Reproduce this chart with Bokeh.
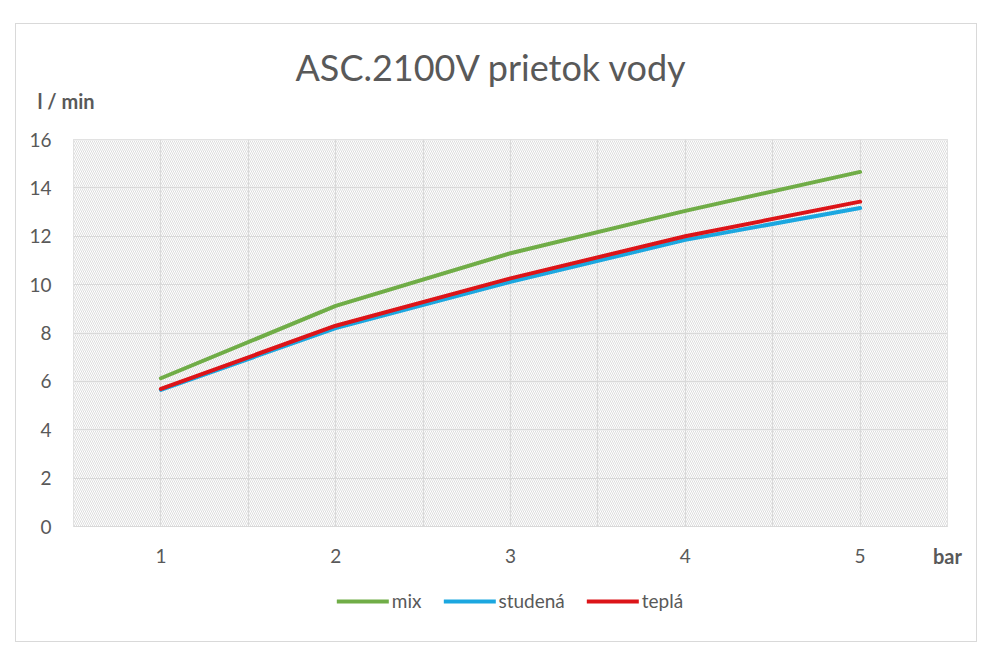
from bokeh.plotting import figure
from bokeh.layouts import column
from bokeh.models import (FixedTicker, BoxAnnotation, Title, Legend, LegendItem, Range1d)
from bokeh.embed import file_html
from bokeh.resources import INLINE

# ---- data ----
pressure = [1, 2, 3, 4, 5]
mix = [6.13, 9.12, 11.30, 13.05, 14.66]
studena = [5.65, 8.20, 10.12, 11.85, 13.17]
tepla = [5.69, 8.30, 10.26, 12.00, 13.43]
series_names = ["mix", "studená", "teplá"]
series_colors = ["#70AD47", "#1BA7E0", "#DC1418"]
y_ticks = [0, 2, 4, 6, 8, 10, 12, 14, 16]
title_text = "ASC.2100V prietok vody"
y_unit = "l / min"
x_unit = "bar"

FONT = "Lato"
TXT = "#595959"
GRID = "#d9d9d9"

p = figure(width=960, height=565, output_backend="svg", toolbar_location=None,
           x_range=Range1d(0.5, 5.5), y_range=Range1d(0, 16),
           min_border_left=57, min_border_right=29, min_border_top=115, min_border_bottom=63)
p.title.visible = False
p.background_fill_color = "white"
p.border_fill_color = "white"
p.outline_line_color = GRID

# hatched plot area
p.add_layout(BoxAnnotation(fill_color="white", fill_alpha=1.0, hatch_pattern="\\",
                           hatch_color="#dddddd", hatch_scale=4, hatch_weight=1,
                           line_color=None, level="image"))

# axes
p.xaxis.ticker = FixedTicker(ticks=pressure)
p.yaxis.ticker = FixedTicker(ticks=y_ticks)
for ax in (p.xaxis[0], p.yaxis[0]):
    ax.major_tick_line_color = None
    ax.minor_tick_line_color = None
    ax.major_label_text_font = FONT
    ax.major_label_text_font_size = "19px"
    ax.major_label_text_color = TXT
p.yaxis.axis_line_color = None
p.xaxis.axis_line_color = GRID
p.yaxis.major_label_standoff = 16
p.xaxis.major_label_standoff = 16

xa = p.xaxis[0]
xa.axis_label = x_unit
xa.axis_label_align = "end"
xa.axis_label_standoff = -22
xa.axis_label_text_font = FONT
xa.axis_label_text_font_size = "20px"
xa.axis_label_text_font_style = "bold"
xa.axis_label_text_color = TXT

p.xgrid.ticker = FixedTicker(ticks=[0.5 + 0.5 * i for i in range(11)])
p.ygrid.ticker = FixedTicker(ticks=y_ticks)
p.xgrid.grid_line_color = GRID
p.ygrid.grid_line_color = GRID
p.xgrid.grid_line_width = 1.2
p.ygrid.grid_line_width = 1.2

# lines
all_series = [mix, studena, tepla]
for vals, col in zip(all_series, series_colors):
    p.line(pressure, vals, line_color=col, line_width=4, line_cap="round", line_join="round")

# titles above the frame
p.add_layout(Title(text=y_unit, align="left", offset=-36, standoff=53,
                   text_font=FONT, text_font_size="20px", text_font_style="bold",
                   text_color=TXT), "above")
p.add_layout(Title(text=title_text, align="left", offset=222, standoff=-57,
                   text_font=FONT, text_font_size="36px", text_font_style="normal",
                   text_color=TXT), "above")

# legend strip below the chart (series drawn out of view, only legend shows)
lf = figure(width=960, height=52, output_backend="svg", toolbar_location=None,
            x_range=Range1d(100, 101), y_range=Range1d(100, 101),
            x_axis_type=None, y_axis_type=None,
            min_border_left=0, min_border_right=0, min_border_top=0, min_border_bottom=0)
lf.title.visible = False
lf.grid.visible = False
lf.outline_line_color = None
lf.background_fill_color = "white"
lf.border_fill_color = "white"
leg_r = [lf.line(pressure, vals, line_color=c, line_width=4, line_cap="round")
         for vals, c in zip(all_series, series_colors)]
legend = Legend(items=[LegendItem(label=n, renderers=[r]) for n, r in zip(series_names, leg_r)],
                orientation="horizontal", location="top_center",
                label_text_font=FONT, label_text_font_size="19px", label_text_color=TXT,
                glyph_width=52, glyph_height=20, label_standoff=3, spacing=22,
                border_line_color=None, background_fill_alpha=0, padding=0, margin=0)
lf.add_layout(legend, "center")

layout = column(p, lf, spacing=0, margin=(23, 0, 0, 15),
                styles={"border": "1px solid #d9d9d9"})

open("out.html", "w").write(file_html(layout, INLINE))
